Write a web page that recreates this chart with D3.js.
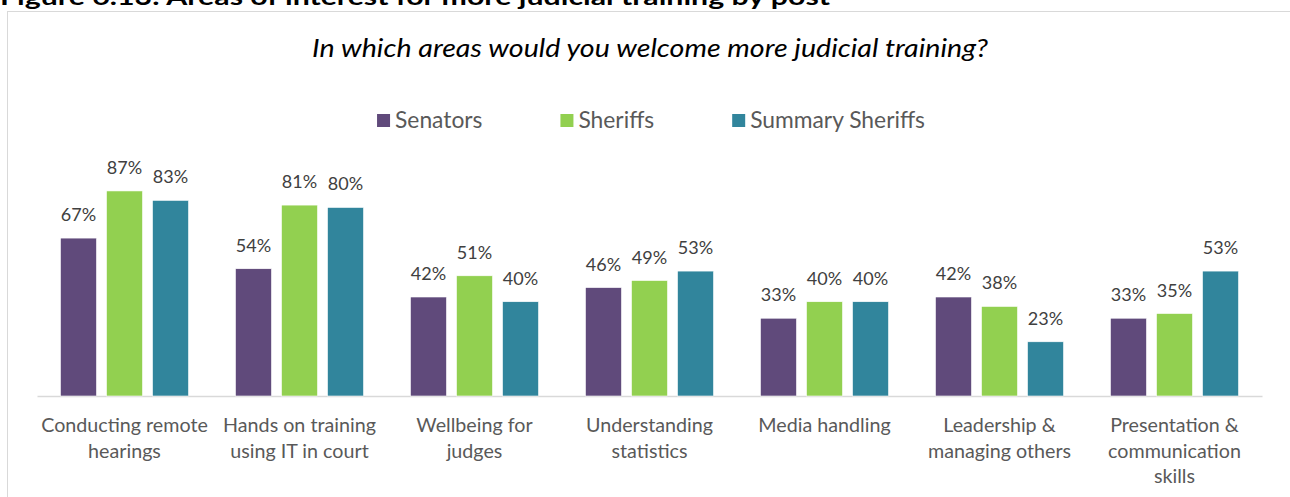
<!DOCTYPE html>
<html>
<head>
<meta charset="utf-8">
<script src="https://cdn.jsdelivr.net/npm/d3@7"></script>
<style>
  html, body { margin: 0; padding: 0; background: #fff; }
  svg { display: block; }
</style>
</head>
<body>
<svg id="chart" width="1290" height="497"></svg>
<script>
const figureTitle = "Figure 6.13: Areas of interest for more judicial training by post";
const subtitle = "In which areas would you welcome more judicial training?";
const categories = [
  ["Conducting remote", "hearings"],
  ["Hands on training", "using IT in court"],
  ["Wellbeing for", "judges"],
  ["Understanding", "statistics"],
  ["Media handling"],
  ["Leadership &", "managing others"],
  ["Presentation &", "communication", "skills"]
];
const seriesNames = ["Senators", "Sheriffs", "Summary Sheriffs"];
const senators = [67, 54, 42, 46, 33, 42, 33];
const sheriffs = [87, 81, 51, 49, 40, 38, 35];
const summarySheriffs = [83, 80, 40, 53, 40, 23, 53];
const seriesValues = [senators, sheriffs, summarySheriffs];
const colors = ["#604a7b", "#92d050", "#31859c"];

const svg = d3.select("#chart");
const font = "Lato, 'Open Sans', sans-serif";

// frame
svg.append("rect").attr("x", 7.5).attr("y", 11.5).attr("width", 1300).attr("height", 600)
  .attr("fill", "#fff").attr("stroke", "#d9d9d9").attr("stroke-width", 1);

// figure title (clipped at top, as in the reference)
svg.append("text").attr("x", 0).attr("y", 5)
  .attr("font-family", font).attr("font-weight", "bold").attr("font-size", 22)
  .attr("fill", "#000").attr("textLength", 830).attr("lengthAdjust", "spacingAndGlyphs")
  .text(figureTitle);

// subtitle
svg.append("text").attr("x", 650).attr("y", 57).attr("text-anchor", "middle")
  .attr("font-family", font).attr("font-style", "italic").attr("font-size", 26)
  .attr("fill", "#000").attr("textLength", 676).attr("lengthAdjust", "spacingAndGlyphs")
  .text(subtitle);

const idx = d3.range(categories.length);
const x0 = d3.scaleBand().domain(idx).range([37, 1262]).paddingInner(0).paddingOuter(0);
const x1 = d3.scaleBand().domain(d3.range(seriesNames.length)).range([0, x0.bandwidth()])
  .paddingInner(0.217).paddingOuter(0.51);
const y = d3.scaleLinear().domain([0, 100]).range([396, 160.3]);

// axis baseline
const xAxis = d3.axisBottom(x0).tickSize(0).tickFormat("");
const axisG = svg.append("g").attr("transform", `translate(0,${y(0)})`).call(xAxis);
axisG.select(".domain").attr("stroke", "#d9d9d9").attr("stroke-width", 1.5);

// bars
const groups = svg.append("g").selectAll("g").data(idx).join("g")
  .attr("transform", i => `translate(${x0(i)},0)`);

groups.selectAll("rect").data(i => seriesValues.map((s, k) => ({k, v: s[i]}))).join("rect")
  .attr("x", d => x1(d.k)).attr("width", x1.bandwidth())
  .attr("y", d => y(d.v)).attr("height", d => y(0) - y(d.v))
  .attr("fill", d => colors[d.k]).attr("stroke", "#fff").attr("stroke-width", 0.6);

groups.selectAll("text.val").data(i => seriesValues.map((s, k) => ({k, v: s[i]}))).join("text")
  .attr("class", "val")
  .attr("x", d => x1(d.k) + x1.bandwidth() / 2).attr("y", d => y(d.v) - 17)
  .attr("text-anchor", "middle").attr("font-family", font).attr("font-size", 18)
  .attr("fill", "#404040").text(d => d.v + "%");

// category labels
const catG = svg.append("g");
idx.forEach(i => {
  const t = catG.append("text").attr("text-anchor", "middle")
    .attr("font-family", font).attr("font-size", 19.7).attr("fill", "#595959");
  categories[i].forEach((line, j) => {
    t.append("tspan").attr("x", x0(i) + x0.bandwidth() / 2).attr("y", 432 + j * 25.7).text(line);
  });
});

// legend
const legend = svg.append("g");
const sq = 13, gapSq = 5, gapItem = 78;
const items = seriesNames.map((name, k) => {
  const g = legend.append("g");
  g.append("rect").attr("width", sq).attr("height", sq).attr("y", 114).attr("fill", colors[k]);
  const t = g.append("text").attr("x", sq + gapSq).attr("y", 128)
    .attr("font-family", font).attr("font-size", 22.8).attr("fill", "#595959").text(name);
  return {g, w: sq + gapSq + t.node().getComputedTextLength()};
});
const total = d3.sum(items, d => d.w) + gapItem * (items.length - 1);
let cx = 651 - total / 2;
items.forEach(it => { it.g.attr("transform", `translate(${cx},0)`); cx += it.w + gapItem; });
</script>
</body>
</html>
